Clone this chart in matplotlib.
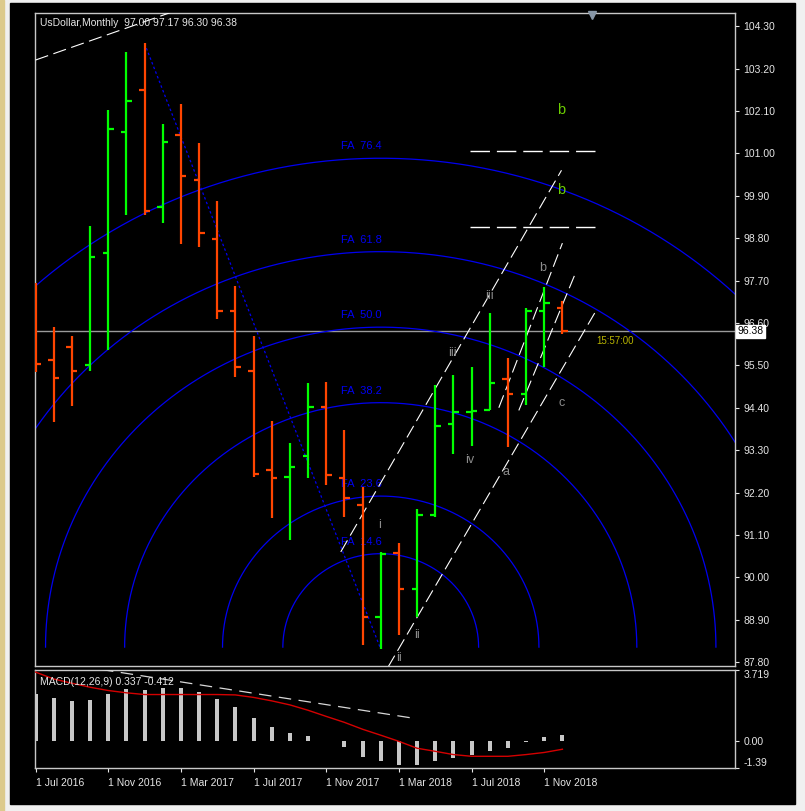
import matplotlib.pyplot as plt
import numpy as np
from matplotlib.patches import Rectangle

plt.rcParams['font.family'] = ['Liberation Sans', 'DejaVu Sans']

# monthly bars, Jul 2016 .. Dec 2018
months = ['Jul 2016', 'Aug 2016', 'Sep 2016', 'Oct 2016', 'Nov 2016', 'Dec 2016',
          'Jan 2017', 'Feb 2017', 'Mar 2017', 'Apr 2017', 'May 2017', 'Jun 2017',
          'Jul 2017', 'Aug 2017', 'Sep 2017', 'Oct 2017', 'Nov 2017', 'Dec 2017',
          'Jan 2018', 'Feb 2018', 'Mar 2018', 'Apr 2018', 'May 2018', 'Jun 2018',
          'Jul 2018', 'Aug 2018', 'Sep 2018', 'Oct 2018', 'Nov 2018', 'Dec 2018']
opens = [96.10, 95.64, 95.98, 95.52, 98.42, 101.56, 102.64, 99.61, 101.47, 100.31,
         98.79, 96.91, 95.36, 92.78, 92.61, 93.15, 94.41, 92.58, 91.87, 88.96,
         90.64, 89.69, 91.63, 93.97, 94.29, 94.34, 95.14, 94.75, 96.91, 97.00]
highs = [97.63, 96.50, 96.27, 99.11, 102.12, 103.63, 103.85, 101.76, 102.28, 101.26,
         99.77, 97.56, 96.26, 94.06, 93.49, 95.05, 95.07, 93.82, 92.35, 90.66,
         90.89, 91.76, 94.99, 95.25, 95.45, 96.87, 95.68, 96.99, 97.54, 97.17]
lows = [95.32, 94.04, 94.44, 95.36, 95.90, 99.40, 99.40, 99.20, 98.66, 98.56,
        96.69, 95.20, 92.61, 91.53, 90.97, 92.58, 92.39, 91.56, 88.24, 88.13,
        88.50, 88.98, 91.57, 93.20, 93.41, 94.34, 93.39, 94.47, 95.46, 96.30]
closes = [95.53, 95.17, 95.36, 98.30, 101.63, 102.36, 99.51, 101.30, 100.41, 98.92,
          96.91, 95.45, 92.67, 92.58, 92.87, 94.43, 92.65, 92.05, 88.96, 90.60,
          89.71, 91.63, 93.93, 94.28, 94.31, 95.03, 94.75, 96.91, 97.12, 96.38]

macd_main = [2.47, 2.27, 2.08, 2.13, 2.49, 2.74, 2.67, 2.76, 2.76, 2.58,
             2.20, 1.79, 1.23, 0.76, 0.42, 0.27, 0.02, -0.32, -0.81, -1.03,
             -1.23, -1.23, -1.03, -0.85, -0.69, -0.49, -0.34, -0.05, 0.22, 0.337]
macd_signal = [3.61, 3.25, 3.03, 2.82, 2.65, 2.53, 2.44, 2.44, 2.44, 2.44,
               2.44, 2.42, 2.29, 2.11, 1.90, 1.62, 1.30, 0.99, 0.63, 0.32,
               0.00, -0.36, -0.52, -0.69, -0.78, -0.78, -0.78, -0.69, -0.58, -0.412]

price_ticks = [104.30, 103.20, 102.10, 101.00, 99.90, 98.80, 97.70, 96.60,
               95.50, 94.40, 93.30, 92.20, 91.10, 90.00, 88.90, 87.80]
date_ticks = [0, 4, 8, 12, 16, 20, 24, 28]
date_labels = ['1 Jul 2016', '1 Nov 2016', '1 Mar 2017', '1 Jul 2017',
               '1 Nov 2017', '1 Mar 2018', '1 Jul 2018', '1 Nov 2018']

# fibonacci arcs: anchored on the Jan 2017 high and the Feb 2018 low
fib_levels = [14.6, 23.6, 38.2, 50.0, 61.8, 76.4]
arc_from = (6, 103.85)
arc_center = (19, 88.19)
arc_rx, arc_ry = 36.9, 16.6

# white dashed trend lines (bar index, price)
tl_t0 = [0.0, 16.8, 19.4, 25.5, 26.6]
tl_p0 = [103.42, 90.66, 87.67, 94.40, 94.33]
tl_t1 = [8.5, 28.95, 30.93, 29.0, 29.7]
tl_p1 = [104.83, 100.56, 96.98, 98.67, 97.87]
hl_prices = [101.06, 99.09]
hl_t = [23.94, 30.93]

wave_text = ['i', 'ii', 'ii', 'iii', 'iii', 'iv', 'a', 'b', 'c']
wave_t = [18.93, 19.98, 20.97, 22.95, 24.99, 23.89, 25.92, 27.90, 28.95]
wave_p = [91.36, 87.91, 88.50, 95.82, 97.30, 93.04, 92.73, 98.02, 94.52]
green_p = [102.12, 100.05]

up_col = '#00ff00'
dn_col = '#ff4500'
fg = '#e6e6e6'

fig = plt.figure(figsize=(8.05, 8.11), dpi=100)
fig.patch.set_facecolor('#f0f0f0')
fig.add_artist(Rectangle((0, 0), 4 / 805, 1, transform=fig.transFigure,
                         color='#dcca8c', zorder=-10))
fig.add_artist(Rectangle((10 / 805, 1 - 804 / 811), 785 / 805, 801 / 811,
                         transform=fig.transFigure, color='black', zorder=-10))

ax = fig.add_axes([35 / 805, 1 - 666 / 811, 700 / 805, 653 / 811])
ax2 = fig.add_axes([35 / 805, 1 - 768 / 811, 700 / 805, 98 / 811])

for a in (ax, ax2):
    a.set_facecolor('black')
    for s in a.spines.values():
        s.set_color('#c8c8c8')
        s.set_linewidth(1.0)
    a.set_xlim(-0.03, 38.5)

# --- price pane ---
x = np.arange(len(opens))
for i in x:
    c = up_col if closes[i] >= opens[i] else dn_col
    ax.plot([i, i], [lows[i], highs[i]], color=c, lw=1.6, solid_capstyle='butt', zorder=4)
    ax.plot([i - 0.3, i], [opens[i], opens[i]], color=c, lw=1.6, solid_capstyle='butt', zorder=4)
    ax.plot([i, i + 0.3], [closes[i], closes[i]], color=c, lw=1.6, solid_capstyle='butt', zorder=4)

th = np.linspace(0, np.pi, 400)
for lvl in fib_levels:
    rx = arc_rx * lvl / 100
    ry = arc_ry * lvl / 100
    ax.plot(arc_center[0] + rx * np.cos(th), arc_center[1] + ry * np.sin(th),
            color='#0000f0', lw=0.9, zorder=2)
    ax.annotate('FA  %.1f' % lvl, (arc_center[0] + 0.05, arc_center[1] + ry),
                xytext=(0, 5), textcoords='offset points', ha='right', va='bottom',
                color='#0000f0', fontsize=8, zorder=3)

ax.plot([arc_from[0], arc_center[0]], [arc_from[1], arc_center[1] - 0.05],
        color='#0000f0', lw=0.9, ls=(0, (2, 2)), zorder=3)

for t0, p0, t1, p1 in zip(tl_t0, tl_p0, tl_t1, tl_p1):
    ax.plot([t0, t1], [p0, p1], color='white', lw=0.8, ls=(0, (12, 5)), zorder=3)
for hp in hl_prices:
    ax.plot(hl_t, [hp, hp], color='white', lw=1.0, ls=(0, (14, 5)), zorder=3)

for s, t, p in zip(wave_text, wave_t, wave_p):
    ax.text(t, p, s, color='#8c8c8c', fontsize=9, ha='center', va='center', zorder=5)
for p in green_p:
    ax.text(28.95, p, 'b', color='#6ccf00', fontsize=10.5, ha='center', va='center', zorder=5)

last = closes[-1]
ax.axhline(last, color='#9a9a9a', lw=1.0, zorder=1)
ax.text(30.85, last - 0.12, '15:57:00', color='#b8b400', fontsize=7, ha='left', va='top')
ax.text(1.004, last, '%.2f' % last, transform=ax.get_yaxis_transform(), ha='left',
        va='center', fontsize=7.5, color='black', zorder=10,
        bbox=dict(boxstyle='square,pad=0.15', fc='white', ec='white'))

ax.set_ylim(87.70, 104.64)
ax.set_yticks(price_ticks)
ax.set_yticklabels(['%.2f' % v for v in price_ticks])
ax.yaxis.tick_right()
ax.tick_params(axis='y', colors=fg, labelsize=7.5, length=3, width=0.8, pad=3)
ax.set_xticks([])

ax.text(0.007, 0.993, 'UsDollar,Monthly  97.00 97.17 96.30 96.38', transform=ax.transAxes,
        color=fg, fontsize=7.5, ha='left', va='top')
ax.plot([0.795], [0.997], marker='v', ms=6, color='#8796a6', transform=ax.transAxes,
        clip_on=False, zorder=10)

# --- MACD pane ---
ax2.bar(x, macd_main, width=0.22, color='#c8c8c8', zorder=2)
ax2.plot(x, macd_signal, color='#d40000', lw=1.0, zorder=3)
ax2.plot([3.6, 20.9], [3.75, 1.19], color='#d8d8d8', lw=0.9, ls=(0, (10, 6)), zorder=3)
ax2.set_ylim(-1.39, 3.719)
ax2.set_yticks([3.719, 0.0, -1.39])
ax2.set_yticklabels(['3.719', '0.00', '-1.39'])
ax2.yaxis.tick_right()
ax2.tick_params(axis='y', colors=fg, labelsize=7.5, length=3, width=0.8, pad=3)
lbl = ax2.get_yticklabels()
lbl[0].set_va('top')
lbl[2].set_va('bottom')
ax2.set_xticks(date_ticks)
ax2.set_xticklabels(date_labels, ha='left')
ax2.tick_params(axis='x', colors=fg, labelsize=7.5, length=3, width=0.8, pad=4)
ax2.text(0.007, 0.93, 'MACD(12,26,9) %.3f %.3f' % (macd_main[-1], macd_signal[-1]),
         transform=ax2.transAxes, color=fg, fontsize=7.5, ha='left', va='top', zorder=5)

fig.savefig('out.png', dpi=100, facecolor=fig.get_facecolor())
